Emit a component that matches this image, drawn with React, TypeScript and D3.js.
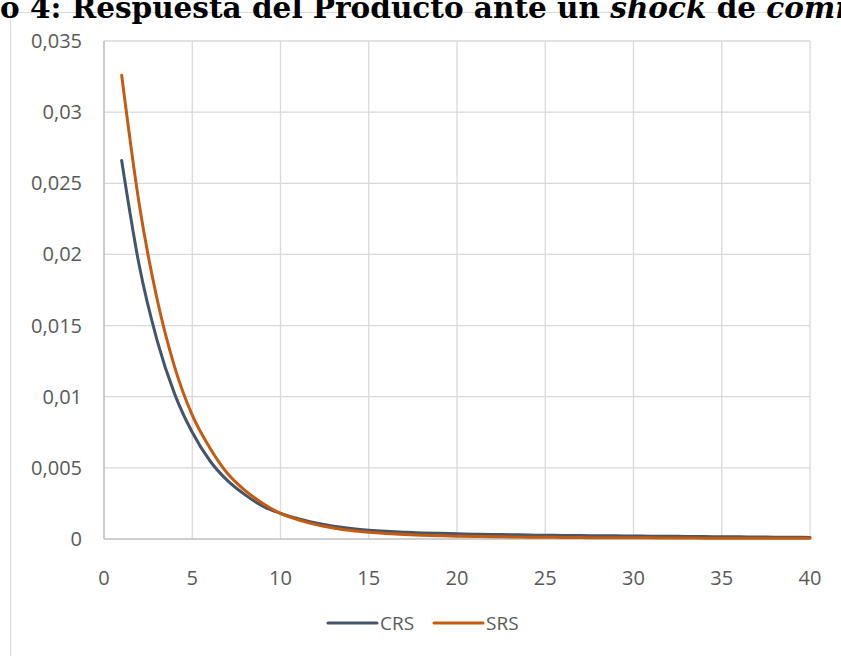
import React from "react";
import * as d3 from "d3";

const periods = d3.range(1, 41);
const crs = [0.0266, 0.0192, 0.0140, 0.0102, 0.0075, 0.0055, 0.0041, 0.0031, 0.0023, 0.0018,
  0.00142, 0.00112, 0.00090, 0.00074, 0.00062, 0.00054, 0.00048, 0.00043, 0.00040, 0.00037,
  0.00034, 0.00032, 0.00030, 0.00028, 0.00026, 0.00025, 0.00024, 0.00023, 0.00022, 0.00021,
  0.00020, 0.00019, 0.00018, 0.00017, 0.00016, 0.00015, 0.00014, 0.00013, 0.00012, 0.00011];
const srs = [0.0326, 0.0235, 0.0169, 0.0121, 0.0087, 0.0064, 0.0046, 0.0034, 0.0025, 0.0018,
  0.00135, 0.00102, 0.00078, 0.00060, 0.00048, 0.00039, 0.00032, 0.00027, 0.00023, 0.00020,
  0.00018, 0.00016, 0.00014, 0.00013, 0.00012, 0.00011, 0.00010, 0.00009, 0.00009, 0.00008,
  0.00008, 0.00007, 0.00007, 0.00006, 0.00006, 0.00006, 0.00005, 0.00005, 0.00005, 0.00005];
const seriesNames = ["CRS", "SRS"];
const seriesColors = ["#44546A", "#C55A11"];
const xTicks = [0, 5, 10, 15, 20, 25, 30, 35, 40];
const yTicks = [0, 0.005, 0.01, 0.015, 0.02, 0.025, 0.03, 0.035];

const W = 841, H = 656;
const left = 104, right = 810, top = 41, bottom = 539;

export default function App() {
  const x = d3.scaleLinear().domain([0, 40]).range([left, right]);
  const y = d3.scaleLinear().domain([0, 0.035]).range([bottom, top]);
  const line = d3.line<number>().x((_, i) => x(periods[i])).y((d) => y(d)).curve(d3.curveMonotoneX);
  const fmt = (v: number) => String(v).replace(".", ",");
  const font = "'Open Sans', sans-serif";
  const data = [crs, srs];
  return (
    <svg width={W} height={H} style={{ position: "absolute", left: 0, top: 0, background: "#fff" }}>
      <rect x={0} y={0} width={W} height={H} fill="#fff" />
      {/* outer chart border */}
      <path d={`M10.5,${H} V12.5 H${W}`} fill="none" stroke="#d9d9d9" strokeWidth={1} />
      {/* title (cropped) */}
      <g fontFamily="'DejaVu Serif', serif" fontWeight="bold" fontSize={29.5} fill="#000">
        <text x={0} y={18} textAnchor="end">Gráfic</text>
        <text x={0} y={18}>
          o 4: Respuesta del Producto ante un <tspan fontStyle="italic">shock</tspan> de <tspan fontStyle="italic">commodities</tspan>
        </text>
      </g>
      {/* gridlines */}
      {xTicks.map((t) => (
        <line key={"gx" + t} x1={x(t)} x2={x(t)} y1={top} y2={bottom} stroke="#d9d9d9" strokeWidth={1.3} />
      ))}
      {yTicks.map((t) => (
        <line key={"gy" + t} x1={left} x2={right} y1={y(t)} y2={y(t)} stroke={t === 0 ? "#bfbfbf" : "#d9d9d9"} strokeWidth={1.3} />
      ))}
      <line x1={left} x2={left} y1={top} y2={bottom} stroke="#bfbfbf" strokeWidth={1.3} />
      {/* y labels */}
      {yTicks.map((t) => (
        <text key={"ly" + t} x={82} y={y(t)} dy="0.35em" textAnchor="end" fontFamily={font} fontSize={20} fill="#595959">
          {fmt(t)}
        </text>
      ))}
      {xTicks.map((t) => (
        <text key={"lx" + t} x={x(t)} y={585} textAnchor="middle" fontFamily={font} fontSize={20} fill="#595959">
          {t}
        </text>
      ))}
      {/* series */}
      {data.map((d, i) => (
        <path key={i} d={line(d) || ""} fill="none" stroke={seriesColors[i]} strokeWidth={3} strokeLinecap="round" strokeLinejoin="round" />
      ))}
      {/* legend */}
      {seriesNames.map((n, i) => (
        <g key={n} transform={`translate(${328 + i * 106},623)`}>
          <line x1={0} x2={49} y1={0} y2={0} stroke={seriesColors[i]} strokeWidth={3} strokeLinecap="round" />
          <text x={52} y={0} dy="0.35em" fontFamily={font} fontSize={19} fill="#595959">{n}</text>
        </g>
      ))}
    </svg>
  );
}
